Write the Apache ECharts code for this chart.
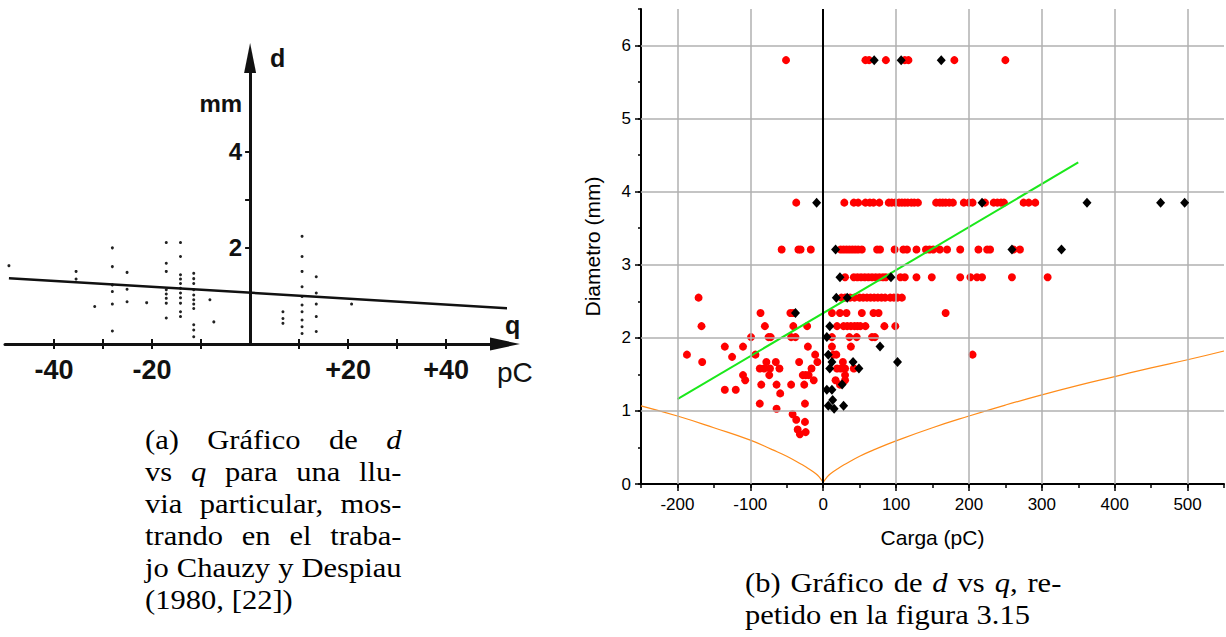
<!DOCTYPE html>
<html><head><meta charset="utf-8">
<script src="https://cdn.jsdelivr.net/npm/echarts@6/dist/echarts.min.js"></script>
<style>
html,body{margin:0;padding:0;background:#fff;}
#chart{position:absolute;left:0;top:0;width:1226px;height:637px;}
.cap{position:absolute;font-family:'Liberation Serif','DejaVu Serif',serif;font-size:27px;color:#000;line-height:32px;transform:scaleX(1.13);transform-origin:0 0;}
.cap .ln{display:flex;justify-content:space-between;white-space:nowrap;column-gap:6px;}
.cap .ln.last{justify-content:flex-start;column-gap:7px;}
</style></head><body>
<div id="chart"></div>
<div class="cap" style="left:145px;top:424px;width:227px;">
<div class="ln"><span>(a)</span><span>Gráfico</span><span>de</span><span><i>d</i></span></div>
<div class="ln"><span>vs</span><span><i>q</i></span><span>para</span><span>una</span><span>llu-</span></div>
<div class="ln"><span>via</span><span>particular,</span><span>mos-</span></div>
<div class="ln"><span>trando</span><span>en</span><span>el</span><span>traba-</span></div>
<div class="ln"><span>jo</span><span>Chauzy</span><span>y</span><span>Despiau</span></div>
<div class="ln last"><span>(1980,</span><span>[22])</span></div>
</div>
<div class="cap" style="left:745px;top:567px;width:280px;">
<div class="ln"><span>(b)</span><span>Gráfico</span><span>de</span><span><i>d</i></span><span>vs</span><span><i>q</i>,</span><span>re-</span></div>
<div class="ln last"><span>petido</span><span>en</span><span>la</span><span>figura</span><span>3.15</span></div>
</div>
<script>
// ---------- panel (b) data ----------
const xMajorB = [-200, -100, 0, 100, 200, 300, 400, 500];
const yMajorB = [0, 1, 2, 3, 4, 5, 6];
const xGridB = [-200, -100, 100, 200, 300, 400, 500];
const yGridB = [1, 2, 3, 4, 5, 6];
const redPoints = [
  [-51,5.8],[58,5.8],[63,5.8],[86,5.8],[112,5.8],[117,5.8],[180,5.8],[250,5.8],
  [-37,3.85],[29,3.85],[42,3.85],[48,3.85],[58,3.85],[64,3.85],[69,3.85],[77,3.85],[90,3.85],[94,3.85],[99,3.85],[104,3.85],[108,3.85],[112,3.85],[116,3.85],[121,3.85],[125,3.85],[130,3.85],[155,3.85],[160,3.85],[164,3.85],[168,3.85],[173,3.85],[178,3.85],[193,3.85],[200,3.85],[205,3.85],[222,3.85],[234,3.85],[239,3.85],[244,3.85],[248,3.85],[275,3.85],[282,3.85],[291,3.85],
  [-57,3.21],[-34,3.21],[-31,3.21],[-17,3.21],[24,3.21],[28,3.21],[32,3.21],[36,3.21],[40,3.21],[44,3.21],[48,3.21],[53,3.21],[74,3.21],[78,3.21],[98,3.21],[110,3.21],[115,3.21],[128,3.21],[141,3.21],[146,3.21],[151,3.21],[160,3.21],[170,3.21],[188,3.21],[213,3.21],[225,3.21],[229,3.21],[261,3.21],[270,3.21],
  [30,2.83],[42,2.83],[47,2.83],[52,2.83],[57,2.83],[62,2.83],[67,2.83],[72,2.83],[77,2.83],[82,2.83],[86,2.83],[106,2.83],[112,2.83],[128,2.83],[149,2.83],[188,2.83],[202,2.83],[211,2.83],[218,2.83],[259,2.83],[308,2.83],
  [-171,2.55],[25,2.55],[30,2.55],[37,2.55],[43,2.55],[50,2.55],[55,2.55],[60,2.55],[65,2.55],[70,2.55],[75,2.55],[80,2.55],[85,2.55],[92,2.55],[97,2.55],[102,2.55],[108,2.55],
  [-86,2.34],[-45,2.34],[-41,2.34],[12,2.34],[23,2.34],[32,2.34],[53,2.34],[69,2.34],[76,2.34],[168,2.34],
  [-167,2.16],[-80,2.16],[-41,2.16],[-22,2.16],[19,2.16],[28,2.16],[33,2.16],[38,2.16],[43,2.16],[47,2.16],[51,2.16],[58,2.16],[84,2.16],[99,2.16],
  [-99,2.01],[-75,2.01],[-72,2.01],[-44,2.01],[-38,2.01],[12,2.01],[36,2.01],[46,2.01],[67,2.01],[71,2.01],
  [-135,1.88],[-110,1.88],[-21,1.88],[12,1.88],[38,1.88],
  [-187,1.77],[-93,1.77],[-11,1.77],[14,1.77],[18,1.77],[205,1.77],[-125,1.74],
  [-166,1.67],[-78,1.67],[-65,1.67],[-33,1.67],[-8,1.67],[27,1.67],
  [-87,1.58],[-81,1.58],[-73,1.58],[-60,1.58],[-16,1.58],[19,1.58],[24,1.58],[30,1.58],[42,1.58],
  [-110,1.49],[-74,1.49],[-28,1.49],[-24,1.49],[-20,1.49],[30,1.49],
  [-107,1.42],[-13,1.42],[17,1.42],[30,1.42],
  [-85,1.36],[-64,1.36],[-44,1.36],[-26,1.36],[23,1.36],
  [-135,1.29],[-120,1.29],[-59,1.24],
  [-87,1.10],[-25,1.10],[-64,1.03],[-42,0.955],[-37,0.88],[-25,0.85],[-35,0.745],[-24,0.71],[-32,0.68]
];
const blackPoints = [
  [70,5.8],[107,5.8],[162,5.8],
  [-9,3.85],[218,3.85],[362,3.85],[463,3.85],[496,3.85],
  [17,3.21],[259,3.21],[327,3.21],
  [23,2.83],[93,2.83],[18,2.55],[33,2.55],[-38,2.34],[9,2.16],[5,2.01],[78,1.88],[7,1.77],
  [12,1.67],[41,1.67],[102,1.67],[9,1.58],[49,1.58],[26,1.36],[5,1.29],[12,1.29],[13,1.15],[7,1.07],[28,1.07],[15,1.03]
];
const orangeLeft = [[-250,1.07],[-200,0.93],[-150,0.77],[-100,0.60],[-70,0.47],[-50,0.38],[-30,0.27],[-20,0.21],[-10,0.14],[-5,0.09],[0,0.02]];
const orangeRight = [[0,0.02],[5,0.09],[10,0.14],[20,0.21],[30,0.27],[50,0.38],[70,0.47],[100,0.59],[150,0.77],[200,0.93],[250,1.08],[300,1.22],[350,1.35],[400,1.47],[450,1.59],[500,1.70],[550,1.82]];
const greenFit = [[-200,1.16],[350,4.40]];

// ---------- panel (a) data ----------
const aPoints = [
  [-49.2,1.63],[-35.5,1.51],[-35.5,1.35],[-31.7,0.78],
  [-28.1,2.0],[-28.1,1.61],[-28.1,1.23],[-28.1,1.09],[-28.1,0.83],[-28.1,0.27],
  [-25.1,1.49],[-25.1,1.14],[-25.1,0.88],[-21.1,0.86],
  [-17.1,2.11],[-17.1,1.68],[-17.1,1.51],[-17.1,1.13],[-17.1,1.04],[-17.1,0.95],[-17.1,0.85],[-17.1,0.54],
  [-14.2,2.11],[-14.2,1.82],[-14.2,1.44],[-14.2,1.35],[-14.2,1.26],[-14.2,1.16],[-14.2,1.06],[-14.2,0.96],[-14.2,0.85],[-14.2,0.67],[-14.2,0.57],
  [-11.5,1.47],[-11.5,1.36],[-11.5,1.26],[-11.5,1.13],[-11.5,1.02],[-11.5,0.92],[-11.5,0.83],[-11.5,0.74],[-11.5,0.40],[-11.5,0.29],[-11.5,0.15],
  [-8.2,0.92],[-7.4,0.46],
  [6.7,0.67],[6.7,0.53],[6.7,0.43],
  [10.6,2.24],[10.6,1.82],[10.6,1.51],[10.6,1.19],[10.6,0.99],[10.6,0.81],[10.6,0.67],[10.6,0.5],[10.6,0.36],[10.6,0.22],
  [13.5,1.40],[13.5,1.06],[13.5,0.83],[13.5,0.57],[13.5,0.26],[20.7,0.83]
];
const aFit = [[-49.2,1.37],[52.8,0.74]];
const aXTicks = [-40, -30, -20, -10, 10, 20, 30, 40];
const aXLabels = [-40, -20, 20, 40];
const aYTicks = [2, 3, 4];
const aYLabels = [2, 4, 5];
const aYLabelText = {2: '2', 4: '4', 5: 'mm'};

const SANS = "'Liberation Sans', Arial, sans-serif";
const chart = echarts.init(document.getElementById('chart'), null, {renderer: 'svg'});

const gridLineData = xGridB.map(v => ({xAxis: v})).concat(yGridB.map(v => ({yAxis: v})));
gridLineData.push({xAxis: 0, lineStyle: {color: '#000', width: 2}});

// panel (a) grid geometry: y axis sits where q = 0
const aGrid = {left: 5, top: 58, width: 500, height: 286};
const aXMin = -50, aXMax = 52;
const aYAxisOffset = -(0 - aXMin) / (aXMax - aXMin) * aGrid.width;

chart.setOption({
  animation: false,
  grid: [
    {left: 641, top: 9, width: 583, height: 475, containLabel: false, outerBoundsMode: 'none'},
    Object.assign({containLabel: false, outerBoundsMode: 'none'}, aGrid)
  ],
  xAxis: [
    {gridIndex: 0, type: 'value', min: -250, max: 550, interval: 50,
     axisLine: {onZero: false, lineStyle: {color: '#000', width: 2}},
     axisTick: {length: 7, customValues: xMajorB, lineStyle: {color: '#000', width: 1.5}},
     axisLabel: {customValues: xMajorB, formatter: v => (v % 100 === 0 ? String(v) : ''), color: '#000', fontSize: 17, fontFamily: SANS, margin: 12},
     splitLine: {show: false},
     name: 'Carga (pC)', nameLocation: 'middle', nameGap: 43,
     nameTextStyle: {color: '#000', fontSize: 21, fontFamily: SANS}},
    {gridIndex: 0, type: 'value', min: -250, max: 550, interval: 50, position: 'bottom',
     axisLine: {show: false, onZero: false}, axisTick: {length: 4, lineStyle: {color: '#000', width: 1.5}},
     axisLabel: {show: false}, splitLine: {show: false}},
    {gridIndex: 1, type: 'value', min: aXMin, max: aXMax, interval: 10,
     axisLine: {onZero: false, symbol: ['none', 'triangle'], symbolSize: [13, 30], lineStyle: {color: '#111', width: 3}},
     axisTick: {length: 5, customValues: aXTicks, lineStyle: {color: '#111', width: 2}},
     axisLabel: {customValues: aXLabels, formatter: v => (v > 0 ? '+' + v : String(v)), color: '#111', fontSize: 27, fontWeight: 'bold', fontFamily: SANS, margin: 12},
     splitLine: {show: false},
     name: 'pC', nameLocation: 'end', nameGap: -8,
     nameTextStyle: {color: '#111', fontSize: 28, fontFamily: SANS, align: 'left', verticalAlign: 'top', padding: [14, 0, 0, 0]}},
    {gridIndex: 1, type: 'value', min: aXMin, max: aXMax, interval: 10, position: 'bottom',
     axisLine: {show: false, onZero: false},
     axisTick: {inside: true, length: 5, customValues: aXTicks, lineStyle: {color: '#111', width: 2}},
     axisLabel: {show: false}, splitLine: {show: false}}
  ],
  yAxis: [
    {gridIndex: 0, type: 'value', min: 0, max: 6.5, interval: 1,
     axisLine: {onZero: false, lineStyle: {color: '#000', width: 2}},
     axisTick: {length: 6, customValues: yMajorB, lineStyle: {color: '#000', width: 1.5}},
     axisLabel: {customValues: yMajorB, formatter: v => (Number.isInteger(v) ? String(v) : ''), color: '#000', fontSize: 17, fontFamily: SANS, margin: 10},
     splitLine: {show: false},
     name: 'Diametro (mm)', nameLocation: 'middle', nameGap: 38, nameRotate: 90,
     nameTextStyle: {color: '#000', fontSize: 21, fontFamily: SANS}},
    {gridIndex: 0, type: 'value', min: 0, max: 6.5, interval: 0.5, position: 'left',
     axisLine: {show: false, onZero: false}, axisTick: {length: 3, lineStyle: {color: '#000', width: 1.5}},
     axisLabel: {show: false}, splitLine: {show: false}},
    {gridIndex: 1, type: 'value', min: 0, max: 5.95, interval: 1, position: 'left', offset: aYAxisOffset,
     axisLine: {onZero: false, symbol: ['none', 'triangle'], symbolSize: [12, 30], lineStyle: {color: '#111', width: 3}},
     axisTick: {length: 5, customValues: aYTicks, lineStyle: {color: '#111', width: 2}},
     axisLabel: {customValues: aYLabels, formatter: v => aYLabelText[v] || '', color: '#111', fontSize: 24, fontWeight: 'bold', fontFamily: SANS, margin: 8},
     splitLine: {show: false},
     name: 'd', nameLocation: 'end', nameGap: 0,
     nameTextStyle: {color: '#111', fontSize: 25, fontWeight: 'bold', fontFamily: SANS, align: 'left', verticalAlign: 'middle', padding: [0, 0, 0, 20]}}
  ],
  series: [
    {type: 'line', name: 'grid', xAxisIndex: 0, yAxisIndex: 0, data: [], z: 1, silent: true,
     markLine: {silent: true, symbol: ['none', 'none'], label: {show: false}, animation: false,
                lineStyle: {color: '#b0b0b0', width: 1.5, type: 'solid'}, data: gridLineData}},
    {type: 'line', name: 'limitL', xAxisIndex: 0, yAxisIndex: 0, data: orangeLeft, smooth: true, showSymbol: false, z: 2,
     lineStyle: {color: '#ff8c1a', width: 1.2}},
    {type: 'line', name: 'limitR', xAxisIndex: 0, yAxisIndex: 0, data: orangeRight, smooth: true, showSymbol: false, z: 2,
     lineStyle: {color: '#ff8c1a', width: 1.2}},
    {type: 'scatter', name: 'red', xAxisIndex: 0, yAxisIndex: 0, data: redPoints, symbol: 'circle', symbolSize: 8, z: 3,
     itemStyle: {color: '#ff0000', opacity: 1}},
    {type: 'line', name: 'fit', xAxisIndex: 0, yAxisIndex: 0, data: greenFit, showSymbol: false, z: 4,
     lineStyle: {color: '#1be81b', width: 2}},
    {type: 'scatter', name: 'black', xAxisIndex: 0, yAxisIndex: 0, data: blackPoints, symbol: 'diamond', symbolSize: [9, 10], z: 5,
     itemStyle: {color: '#000', opacity: 1}},
    {type: 'scatter', name: 'a-dots', xAxisIndex: 2, yAxisIndex: 2, data: aPoints, symbol: 'circle', symbolSize: 3, z: 3,
     itemStyle: {color: '#222', opacity: 1}},
    {type: 'line', name: 'a-fit', xAxisIndex: 2, yAxisIndex: 2, data: aFit, showSymbol: false, z: 4,
     lineStyle: {color: '#111', width: 2.5},
     endLabel: {show: true, formatter: 'q', color: '#111', fontSize: 25, fontWeight: 'bold', fontFamily: SANS, offset: [-10, 17]}}
  ]
});
</script>
</body></html>
